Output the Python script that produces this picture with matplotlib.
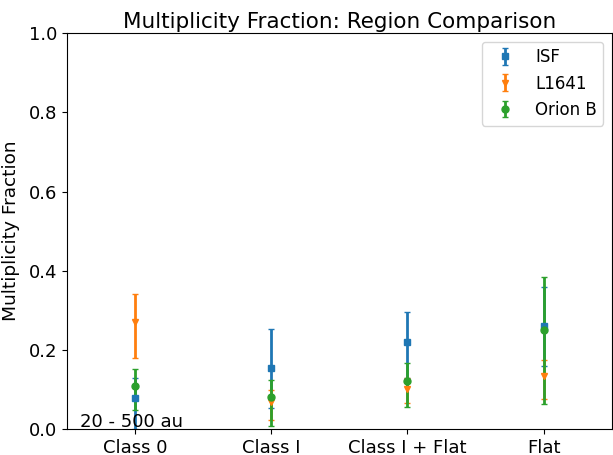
import numpy as np
import matplotlib
matplotlib.use("Agg")
import matplotlib.pyplot as plt

# Data
classes = ["Class 0", "Class I", "Class I + Flat", "Flat"]
regions = ["ISF", "L1641", "Orion B"]
markers = ["s", "v", "o"]

isf = [0.079, 0.153, 0.221, 0.260]
isf_lo = [0.079, 0.100, 0.091, 0.100]
isf_hi = [0.051, 0.101, 0.074, 0.099]

l1641 = [0.271, 0.069, 0.100, 0.134]
l1641_lo = [0.091, 0.046, 0.035, 0.058]
l1641_hi = [0.069, 0.029, 0.030, 0.040]

orionb = [0.108, 0.080, 0.121, 0.250]
orionb_lo = [0.060, 0.072, 0.065, 0.187]
orionb_hi = [0.043, 0.044, 0.047, 0.134]

fig = plt.figure(figsize=(6.13, 4.55), dpi=100)
ax = fig.add_axes([0.109, 0.057, 0.889, 0.870])

x = np.arange(len(classes))
series = [(isf, isf_lo, isf_hi), (l1641, l1641_lo, l1641_hi), (orionb, orionb_lo, orionb_hi)]
for (vals, lo, hi), name, m in zip(series, regions, markers):
    ax.errorbar(x, vals, yerr=[lo, hi], fmt=m, markersize=5, capsize=2,
                elinewidth=2, label=name)

ax.set_xlim(-0.5, 3.5)
ax.set_ylim(0, 1.0)
ax.set_xticks(x)
ax.set_xticklabels(classes, fontsize=13)
ax.set_yticks([0, 0.2, 0.4, 0.6, 0.8, 1.0])
ax.set_yticklabels(["0.0", "0.2", "0.4", "0.6", "0.8", "1.0"], fontsize=13)
ax.set_ylabel("Multiplicity Fraction", fontsize=13.3, labelpad=6)
ax.set_title("Multiplicity Fraction: Region Comparison", fontsize=15.5, pad=4)
ax.text(0.025, 0.005, "20 - 500 au", transform=ax.transAxes, fontsize=13)
ax.legend(loc="upper right", fontsize=12, bbox_to_anchor=(1.0, 1.0))

fig.savefig("out.png", dpi=100)
